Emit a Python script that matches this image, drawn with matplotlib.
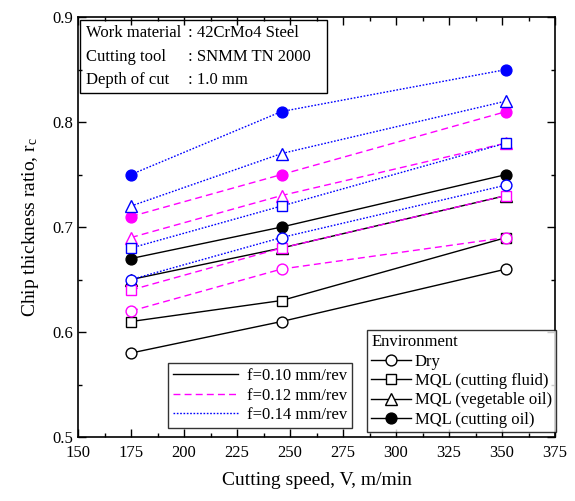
import numpy as np
import matplotlib.pyplot as plt
from matplotlib.lines import Line2D
from matplotlib.patches import Rectangle
from matplotlib.ticker import MultipleLocator

plt.rcParams['font.family'] = ['Liberation Serif', 'DejaVu Serif']
plt.rcParams['mathtext.fontset'] = 'stix'

# cutting speed V (m/min)
speed = [175, 246, 352]

envs = ['Dry', 'MQL (cutting fluid)', 'MQL (vegetable oil)', 'MQL (cutting oil)']
feeds = ['f=0.10 mm/rev', 'f=0.12 mm/rev', 'f=0.14 mm/rev']

# chip thickness ratio, one list per environment, for each feed
rc_f010 = [[0.58, 0.61, 0.66], [0.61, 0.63, 0.69], [0.65, 0.68, 0.73], [0.67, 0.70, 0.75]]
rc_f012 = [[0.62, 0.66, 0.69], [0.64, 0.68, 0.73], [0.69, 0.73, 0.78], [0.71, 0.75, 0.81]]
rc_f014 = [[0.65, 0.69, 0.74], [0.68, 0.72, 0.78], [0.72, 0.77, 0.82], [0.75, 0.81, 0.85]]

markers = ['o', 's', '^', 'o']
filled = [False, False, False, True]
colors = ['black', '#ff00ff', '#0000ff']
styles = ['-', (0, (5, 3)), (0, (1.2, 1.2))]
msize = {'o': 7.8, 's': 7.2, '^': 8.0}

fig = plt.figure(figsize=(5.75, 5.01), dpi=100)
ax = fig.add_axes([0.1357, 0.1277, 0.8296, 0.8383])

for data, c, ls in zip([rc_f010, rc_f012, rc_f014], colors, styles):
    for vals, m, fl in zip(data, markers, filled):
        ax.plot(speed, vals, color=c, linestyle=ls, linewidth=1.0,
                marker=m, markersize=msize[m],
                markerfacecolor=c if fl else 'white', markeredgecolor=c,
                markeredgewidth=1.0)

ax.set_xlim(150, 375)
ax.set_ylim(0.5, 0.9)
ax.xaxis.set_major_locator(MultipleLocator(25))
ax.xaxis.set_minor_locator(MultipleLocator(12.5))
ax.yaxis.set_major_locator(MultipleLocator(0.1))
ax.yaxis.set_minor_locator(MultipleLocator(0.05))
ax.tick_params(which='both', direction='in', top=True, right=True, labelsize=12, width=1)
ax.tick_params(which='major', length=6)
ax.tick_params(which='minor', length=3)
ax.tick_params(axis='x', pad=6)
for s in ax.spines.values():
    s.set_linewidth(1.2)

ax.set_xlabel('Cutting speed, V, m/min', fontsize=14, labelpad=8)
ax.set_ylabel('Chip thickness ratio, r$_\\mathregular{c}$', fontsize=14, labelpad=8)

# info box
ax.add_patch(Rectangle((0.004, 0.819), 0.518, 0.174, transform=ax.transAxes,
                       fill=False, edgecolor='black', linewidth=1.0, zorder=5))
info_left = ['Work material', 'Cutting tool', 'Depth of cut']
info_right = [': 42CrMo4 Steel', ': SNMM TN 2000', ': 1.0 mm']
for i, (a, b) in enumerate(zip(info_left, info_right)):
    y = 0.962 - i * 0.056
    ax.text(0.017, y, a, transform=ax.transAxes, fontsize=12, va='center')
    ax.text(0.231, y, b, transform=ax.transAxes, fontsize=12, va='center')

# feed legend
fh = [Line2D([], [], color=c, linestyle=ls, linewidth=1.0) for c, ls in zip(colors, styles)]
leg1 = ax.legend(fh, feeds, loc='lower left', bbox_to_anchor=(0.189, 0.021),
                 borderaxespad=0, fontsize=12, frameon=True, fancybox=False,
                 handlelength=3.9, handletextpad=0.5, labelspacing=0.22,
                 borderpad=0.3)
leg1.get_frame().set_edgecolor('black')
leg1.get_frame().set_linewidth(1.0)
ax.add_artist(leg1)

# environment legend
eh = [Line2D([], [], color='black', linewidth=1.0, marker=m, markersize=msize[m],
             markerfacecolor='black' if fl else 'white', markeredgecolor='black')
      for m, fl in zip(markers, filled)]
leg2 = ax.legend(eh, envs, loc='lower right', bbox_to_anchor=(1.002, 0.012),
                 borderaxespad=0, fontsize=12, frameon=True, fancybox=False,
                 title='Environment', title_fontsize=12, alignment='left',
                 handlelength=2.4, handletextpad=0.2, labelspacing=0.2,
                 borderpad=0.25)
leg2.get_frame().set_edgecolor('black')
leg2.get_frame().set_linewidth(1.0)

fig.savefig('out.png', dpi=100)
